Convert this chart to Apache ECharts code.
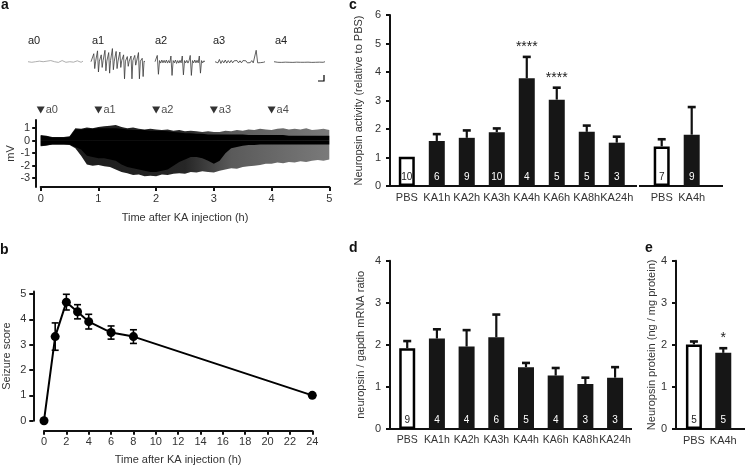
<!DOCTYPE html>
<html><head><meta charset="utf-8">
<script src="https://cdn.jsdelivr.net/npm/echarts@6/dist/echarts.min.js"></script>
<style>html,body{margin:0;padding:0;background:#fff}#c{width:746px;height:468px}</style>
</head><body><div id="c"></div>
<script>
// ================= DATA =================
// Panel a: EEG trace envelope (hours, mV)
const traceTime = [0,0.1,0.2,0.3,0.4,0.5,0.6,0.7,0.8,0.9,1.0,1.1,1.2,1.3,1.4,1.5,1.6,1.7,1.8,1.9,2.0,2.1,2.2,2.3,2.4,2.5,2.6,2.7,2.8,2.9,3.0,3.1,3.2,3.3,3.4,3.5,3.6,3.7,3.8,3.9,4.0,4.1,4.2,4.3,4.4,4.5,4.6,4.7,4.8,4.9,5.0];
const traceOuterUpper = [0.45,0.4,0.3,0.3,0.3,0.35,1.0,0.95,1.05,1.0,1.1,1.15,1.2,1.25,1.1,1.0,1.05,0.95,0.9,0.95,0.9,0.85,0.9,0.8,0.85,0.75,0.8,0.75,0.7,0.75,0.7,0.7,0.8,0.75,0.85,0.8,0.9,0.85,0.95,0.9,0.85,0.95,1.0,0.9,0.95,0.9,1.0,0.85,0.9,0.95,0.85];
const traceOuterLower = [-0.45,-0.4,-0.3,-0.3,-0.3,-0.35,-0.6,-1.2,-1.9,-2.0,-1.95,-2.05,-2.1,-2.3,-2.5,-2.6,-2.75,-2.7,-2.85,-2.8,-2.85,-2.7,-2.75,-2.65,-2.6,-2.65,-2.5,-2.55,-2.45,-2.5,-2.55,-2.4,-2.3,-2.2,-2.25,-2.1,-2.05,-2.0,-1.95,-1.85,-1.85,-1.75,-1.8,-1.7,-1.75,-1.65,-1.7,-1.6,-1.55,-1.6,-1.5];
const traceCoreUpper = [0.4,0.35,0.25,0.25,0.25,0.3,0.9,0.9,0.95,0.95,1.0,1.0,1.0,1.0,0.95,0.9,0.85,0.85,0.85,0.8,0.8,0.8,0.75,0.7,0.65,0.6,0.6,0.55,0.55,0.5,0.5,0.5,0.5,0.5,0.5,0.5,0.45,0.45,0.45,0.45,0.45,0.45,0.45,0.4,0.4,0.4,0.4,0.4,0.4,0.4,0.4];
const traceCoreLower = [-0.4,-0.35,-0.3,-0.3,-0.3,-0.3,-0.5,-0.7,-1.2,-1.3,-1.4,-1.4,-1.5,-1.6,-1.9,-2.1,-2.2,-2.3,-2.4,-2.5,-2.5,-2.4,-2.3,-2.0,-1.7,-1.5,-1.3,-1.3,-1.4,-1.6,-1.85,-1.6,-1.0,-0.6,-0.5,-0.4,-0.35,-0.35,-0.3,-0.3,-0.3,-0.3,-0.3,-0.3,-0.3,-0.3,-0.3,-0.3,-0.3,-0.3,-0.3];
const traceYTicks = [-3,-2,-1,0,1];
const markTimes = [0,1,2,3,4];
const markLabels = ['a0','a1','a2','a3','a4'];
// Panel a: expanded snippets
const snipA0 = [0,0.05,-0.05,0.1,0,-0.08,0.05,0.12,0,-0.05,0.05,0,0.1,-0.05,0,0.08,-0.06,0.04,0.1,0,-0.05,0.06,0,0.1,-0.04,0.02,0.08,0,-0.05,0.05];
const snipA1 = [0,0.08,-0.08,0.7,-0.6,0.05,-0.1,0.95,-0.9,0.05,-0.08,0.6,-0.5,0.1,-0.05,1.0,-0.8,0.05,-0.1,0.8,-1.0,0.1,-0.05,1.15,-0.7,0.05,-0.1,0.9,-0.6,0.05,-0.08,0.85,-0.5,0.1,-0.05,0.6,-1.5,0.05,-0.1,0.45,-0.4,0.05,-0.08,0.5,-1.5,0.1,-0.05,0.55,-0.3,0.05,-0.1,0.8,-1.5,0.05,-0.08,0.3,-1.3,0.05,0];
const snipA2 = [0,0.1,0.55,-1.1,0.1,-0.12,0.15,-0.1,0.12,-0.1,0.15,-0.12,0.1,-0.1,0.5,-1.2,0.1,-0.1,0.15,-0.15,0.1,-0.12,0.12,-0.1,0.5,-1.15,0.1,-0.1,0.12,-0.12,0.1,0.55,-1.2,0.1,-0.1,0.15,-0.1,0.12,-0.1,0.5,-1.0,0.1,-0.1,0.08,0];
const snipA3 = [0,0.15,-0.1,0.2,-0.15,0.1,-0.1,0.15,-0.12,0.1,-0.1,0.12,-0.1,0.08,-0.08,0.1,-0.1,0.08,-0.1,0.1,-0.05,0.08,-0.1,0.05,-0.08,0.1,-0.1,0.05,1.0,-0.1,0.05,-0.08,0.06,-0.05,0];
const snipA4 = [0,0.06,-0.05,0.08,-0.06,0.05,-0.04,0.06,-0.05,0.04,-0.06,0.05,-0.04,0.06,-0.05,0.04,-0.05,0.06,-0.04,0.05,-0.06,0.04,-0.05,0.05,-0.04,0.06,-0.05,0];

// Panel b: seizure score
const bTime  = [0,1,2,3,4,6,8,24];
const bScore = [0,3.32,4.68,4.3,3.91,3.48,3.32,1.0];
const bErr   = [0,0.54,0.31,0.28,0.29,0.26,0.27,0];
const bYTicks = [0,1,2,3,4,5];

// Panel c: neuropsin activity
const cCats = ['PBS','KA1h','KA2h','KA3h','KA4h','KA6h','KA8h','KA24h'];
const cMean = [1.03,1.58,1.69,1.89,3.78,3.03,1.9,1.52];
const cErr  = [0,0.24,0.26,0.13,0.75,0.42,0.22,0.21];
const cN    = ['10','6','9','10','4','5','5','3'];
const cSig  = ['','','','','****','****','',''];
const c2Cats = ['PBS','KA4h'];
const c2Mean = [1.39,1.8];
const c2Err  = [0.25,0.97];
const c2N    = ['7','9'];

// Panel d: mRNA ratio
const dCats = ['PBS','KA1h','KA2h','KA3h','KA4h','KA6h','KA8h','KA24h'];
const dMean = [1.92,2.15,1.96,2.18,1.47,1.27,1.07,1.22];
const dErr  = [0.17,0.22,0.39,0.54,0.1,0.18,0.15,0.25];
const dN    = ['9','4','4','6','5','4','3','3'];

// Panel e: protein
const eCats = ['PBS','KA4h'];
const eMean = [2.01,1.81];
const eErr  = [0.07,0.11];
const eN    = ['5','5'];
const eSig  = ['','*'];

// ================= CHART =================
const FF = '"Liberation Sans", Arial, Helvetica, sans-serif';
const INK = '#111';
const TXT = '#333';
const axLine = () => ({show:true, onZero:false, lineStyle:{color:INK, width:2}});
const axTick = {show:true, length:4, lineStyle:{color:INK, width:2}};
const lbl = (extra) => Object.assign({color:TXT, fontSize:11, fontFamily:FF}, extra||{});
const nameStyle = {color:TXT, fontSize:11, fontFamily:FF};

const chart = echarts.init(document.getElementById('c'), null, {renderer:'canvas'});

const grids = [
  {left:40.7, top:120, width:288.6, height:67},      //0 trace
  {left:28, top:48, width:55, height:32},            //1 a0
  {left:91, top:48, width:54, height:32},            //2 a1
  {left:155, top:48, width:50, height:32},           //3 a2
  {left:215, top:48, width:50, height:32},           //4 a3
  {left:274, top:48, width:51, height:32},           //5 a4
  {left:40.7, top:104, width:288.6, height:12},      //6 markers
  {left:44, top:291.5, width:268.3, height:129.2},   //7 b
  {left:390, top:15, width:247, height:171},         //8 c1
  {left:639, top:15, width:84, height:171},          //9 c2
  {left:390, top:260.7, width:242, height:168.3},    //10 d
  {left:676, top:260.7, width:69, height:168.3}      //11 e
];

const hiddenVal = (i, min, max) => ({type:'value', gridIndex:i, show:false, min:min, max:max});
// group axis: bars sit at integer positions 0..n-1 of a value scale; labels show the group names
const groupRange = {8:[-0.56,7.675], 9:[-0.757,2.043], 10:[-0.58,7.57], 11:[-0.61,1.74]};
const groupX = (i, cats, fs) => ({type:'value', gridIndex:i, min:groupRange[i][0], max:groupRange[i][1], show:true,
  axisLine:{show:false}, axisTick:{show:false}, splitLine:{show:false},
  axisLabel:lbl({margin:6, fontSize:fs||11, hideOverlap:false, showMinLabel:true, showMaxLabel:true,
    customValues:cats.map((c,k)=>k), formatter:v=>cats[Math.round(v)]})});

const xAxes = [];
const yAxes = [];
// 0 trace
xAxes.push({type:'value', gridIndex:0, min:0, max:5, interval:1, axisLine:axLine(), axisTick:axTick,
  axisLabel:lbl({margin:6}), splitLine:{show:false},
  name:'Time after KA injection (h)', nameLocation:'middle', nameGap:25, nameTextStyle:nameStyle});
yAxes.push({type:'value', gridIndex:0, min:-3.7, max:1.65, offset:4.5, axisLine:axLine(),
  axisTick:Object.assign({}, axTick, {customValues:traceYTicks}),
  axisLabel:lbl({customValues:traceYTicks, margin:6}), splitLine:{show:false},
  name:'mV', nameLocation:'middle', nameGap:16, nameTextStyle:nameStyle});
// 1-5 snippets
[snipA0,snipA1,snipA2,snipA3,snipA4].forEach((s,k)=>{
  xAxes.push(hiddenVal(k+1, 0, s.length-1));
  yAxes.push(hiddenVal(k+1, -1.6, 1.2));
});
// 6 markers
xAxes.push(hiddenVal(6, 0, 5));
yAxes.push(hiddenVal(6, 0, 1));
// 7 b
xAxes.push({type:'value', gridIndex:7, min:0, max:24, interval:2, offset:10, axisLine:axLine(), axisTick:axTick,
  axisLabel:lbl({margin:6}), splitLine:{show:false},
  name:'Time after KA injection (h)', nameLocation:'middle', nameGap:24, nameTextStyle:nameStyle});
yAxes.push({type:'value', gridIndex:7, min:0, max:5.1, offset:10.7, axisLine:axLine(),
  axisTick:Object.assign({}, axTick, {customValues:bYTicks}),
  axisLabel:lbl({customValues:bYTicks, margin:7}), splitLine:{show:false},
  name:'Seizure score', nameLocation:'middle', nameGap:21, nameTextStyle:nameStyle});
// 8 c1
xAxes.push(groupX(8, cCats));
yAxes.push({type:'value', gridIndex:8, min:0, max:6, interval:1, axisLine:axLine(), axisTick:axTick,
  axisLabel:lbl({margin:9}), splitLine:{show:false},
  name:'Neuropsin activity (relative to PBS)', nameLocation:'middle', nameGap:26, nameTextStyle:nameStyle});
// 9 c2
xAxes.push(groupX(9, c2Cats));
yAxes.push(hiddenVal(9, 0, 6));
// 10 d
xAxes.push(groupX(10, dCats, 10.5));
yAxes.push({type:'value', gridIndex:10, min:0, max:4, interval:1, axisLine:axLine(), axisTick:axTick,
  axisLabel:lbl({margin:9}), splitLine:{show:false},
  name:'neuropsin / gapdh mRNA ratio', nameLocation:'middle', nameGap:24, nameTextStyle:nameStyle});
// 11 e
xAxes.push(groupX(11, eCats));
yAxes.push({type:'value', gridIndex:11, min:0, max:4, interval:1, axisLine:axLine(), axisTick:axTick,
  axisLabel:lbl({margin:9}), splitLine:{show:false},
  name:'Neuropsin protein (ng / mg protein)', nameLocation:'middle', nameGap:17, nameTextStyle:nameStyle});

const series = [];
// ---- panel a trace bands ----
const outerGrad = new echarts.graphic.LinearGradient(0,0,1,0,[
  {offset:0,color:'#1a1a1a'},{offset:0.5,color:'#262626'},{offset:0.66,color:'#5a5a5a'},{offset:1,color:'#7a7a7a'}]);
const band = (arr, color, z) => ({type:'line', xAxisIndex:0, yAxisIndex:0, z:z, silent:true,
  data: traceTime.map((t,i)=>[t, arr[i]]), showSymbol:false, symbol:'none',
  lineStyle:{width:0}, areaStyle:{color:color, opacity:1, origin:0}});
series.push(band(traceOuterUpper, outerGrad, 2));
series.push(band(traceOuterLower, outerGrad, 2));
series.push(band(traceCoreUpper, '#000', 3));
series.push(band(traceCoreLower, '#000', 3));
// ---- snippets ----
[snipA0,snipA1,snipA2,snipA3,snipA4].forEach((s,k)=>{
  series.push({type:'line', xAxisIndex:k+1, yAxisIndex:k+1, data:s.map((v,i)=>[i,v]), showSymbol:false, symbol:'none',
    lineStyle:{width:0.8, color:k===0?'#999':'#3a3a3a'}, silent:true});
});
// ---- markers ----
series.push({type:'scatter', xAxisIndex:6, yAxisIndex:6, data:markTimes.map(t=>[t,0.5]), symbol:'triangle', symbolRotate:180,
  symbolSize:[8,7], itemStyle:{color:'#000'}, clip:false,
  label:{show:true, position:'right', distance:1, formatter:p=>markLabels[p.dataIndex], color:'#222', fontSize:11, fontFamily:FF}});
// ---- panel b ----
series.push({type:'custom', xAxisIndex:7, yAxisIndex:7, z:2, data:bTime.map((t,i)=>[t,bScore[i],bErr[i]]),
  renderItem:(params, api)=>{
    const t=api.value(0), m=api.value(1), e=api.value(2);
    if (!(e>0)) return {type:'group', children:[]};
    const lo=api.coord([t,m-e]), hi=api.coord([t,m+e]);
    const st={stroke:'#000', lineWidth:1.6};
    return {type:'group', children:[
      {type:'line', shape:{x1:lo[0],y1:lo[1],x2:hi[0],y2:hi[1]}, style:st},
      {type:'line', shape:{x1:hi[0]-3.5,y1:hi[1],x2:hi[0]+3.5,y2:hi[1]}, style:st},
      {type:'line', shape:{x1:lo[0]-3.5,y1:lo[1],x2:lo[0]+3.5,y2:lo[1]}, style:st}]};
  }});
series.push({type:'line', xAxisIndex:7, yAxisIndex:7, z:3, clip:false, data:bTime.map((t,i)=>[t,bScore[i]]),
  symbol:'circle', symbolSize:9, itemStyle:{color:'#000'}, lineStyle:{color:'#000', width:2}});

// ---- bar panels ----
function baseline(axisIdx){
  const r = groupRange[axisIdx];
  return {type:'line', xAxisIndex:axisIdx, yAxisIndex:axisIdx, z:1, silent:true, clip:false, symbol:'none',
    data:[[r[0],0],[r[1],0]], lineStyle:{color:INK, width:2}};
}
function barSeries(axisIdx, cats, means, ns){
  return {type:'bar', xAxisIndex:axisIdx, yAxisIndex:axisIdx, barWidth:16, z:2,
    data: means.map((v,i)=>{
      const white = cats[i]==='PBS';
      return {value:[i, v],
        itemStyle: white ? {color:'#fff', borderColor:'#000', borderWidth:2.5} : {color:'#161616'},
        label:{color: white ? '#222' : '#fff'}};
    }),
    label:{show:true, position:'insideBottom', distance:4, fontSize:10, fontFamily:FF, formatter:p=>ns[p.dataIndex]}};
}
function errSeries(axisIdx, means, errs, sigs){
  return {type:'custom', xAxisIndex:axisIdx, yAxisIndex:axisIdx, z:3,
    data: means.map((m,i)=>[i, m, m+errs[i], errs[i]]),
    renderItem:(params, api)=>{
      const i=api.value(0);
      const base=api.coord([i, api.value(1)]);
      const top=api.coord([i, api.value(2)]);
      const ch=[];
      if (api.value(3)>0){
        ch.push({type:'line', shape:{x1:base[0],y1:base[1],x2:top[0],y2:top[1]}, style:{stroke:'#111', lineWidth:2.2}});
        ch.push({type:'line', shape:{x1:top[0]-4,y1:top[1],x2:top[0]+4,y2:top[1]}, style:{stroke:'#111', lineWidth:2.6}});
      }
      const s = sigs ? sigs[params.dataIndex] : '';
      if (s) ch.push({type:'text', style:{text:s, x:top[0], y:top[1]-10, align:'center', verticalAlign:'middle', fontSize:14, fontFamily:FF, fill:'#222'}});
      return {type:'group', children:ch};
    }};
}
series.push(baseline(8), barSeries(8, cCats, cMean, cN), errSeries(8, cMean, cErr, cSig));
series.push(baseline(9), barSeries(9, c2Cats, c2Mean, c2N), errSeries(9, c2Mean, c2Err, null));
series.push(baseline(10), barSeries(10, dCats, dMean, dN), errSeries(10, dMean, dErr, null));
series.push(baseline(11), barSeries(11, eCats, eMean, eN), errSeries(11, eMean, eErr, eSig));

const pLbl = (t, l, tp) => ({text:t, left:l, top:tp, padding:0, textStyle:{fontSize:14, fontWeight:'bold', color:'#111', fontFamily:FF}});
const sLbl = (t, l, tp) => ({text:t, left:l, top:tp, padding:0, textStyle:{fontSize:11, fontWeight:'normal', color:'#222', fontFamily:FF}});

chart.setOption({
  animation:false,
  backgroundColor:'#fff',
  textStyle:{fontFamily:FF},
  title:[
    pLbl('a', 1, -2), pLbl('b', 0, 243), pLbl('c', 349, -2), pLbl('d', 349, 241), pLbl('e', 645, 241),
    sLbl(markLabels[0], 28, 35), sLbl(markLabels[1], 92, 35), sLbl(markLabels[2], 155, 35), sLbl(markLabels[3], 213, 35), sLbl(markLabels[4], 275, 35)
  ],
  grid:grids, xAxis:xAxes, yAxis:yAxes, series:series,
  graphic:[{type:'polyline', shape:{points:[[318,81],[324,81],[324,75]]}, style:{stroke:'#000', lineWidth:1.2, fill:null}}]
});
</script></body></html>
